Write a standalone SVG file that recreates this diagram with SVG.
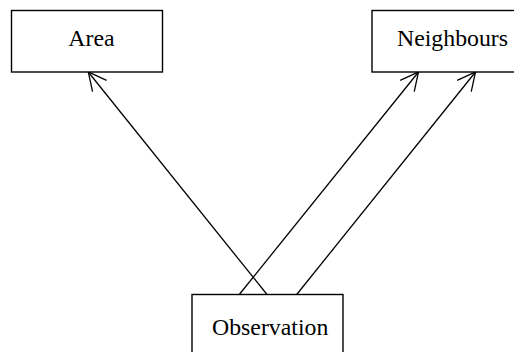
<svg xmlns="http://www.w3.org/2000/svg" width="514" height="352" viewBox="0 0 514 352">
  <defs>
    <style>
      .box { fill: #ffffff; stroke: #000000; stroke-width: 1.4; }
      .label { font-family: "Liberation Serif", "Times New Roman", serif; font-size: 23.8px; fill: #000000; }
      .edge { fill: none; stroke: #000000; stroke-width: 1.3; }
    </style>
    <marker id="open-arrow" markerUnits="userSpaceOnUse" markerWidth="24" markerHeight="24" viewBox="-20 -12 24 24" refX="0" refY="0" orient="auto">
      <path d="M-18,-9 L0,0 L-18,9" fill="none" stroke="#000000" stroke-width="1.3"/>
    </marker>
  </defs>
  <rect width="514" height="352" fill="#ffffff"/>

  <g id="connectors">
    <line class="edge" x1="267" y1="294.5" x2="88.3" y2="72" marker-end="url(#open-arrow)"/>
    <line class="edge" x1="239.3" y1="294.5" x2="418.5" y2="72" marker-end="url(#open-arrow)"/>
    <line class="edge" x1="296.7" y1="294.5" x2="475.5" y2="72" marker-end="url(#open-arrow)"/>
  </g>

  <g id="area">
    <rect class="box" x="11.5" y="10.5" width="151" height="61.5"/>
    <text class="label" x="68.3" y="46">Area</text>
  </g>

  <g id="neighbours">
    <rect class="box" x="372" y="10.5" width="151" height="61.5"/>
    <text class="label" x="397" y="46">Neighbours</text>
  </g>

  <g id="observation">
    <rect class="box" x="192" y="294.5" width="151" height="61.5"/>
    <text class="label" x="212" y="335">Observation</text>
  </g>
</svg>
